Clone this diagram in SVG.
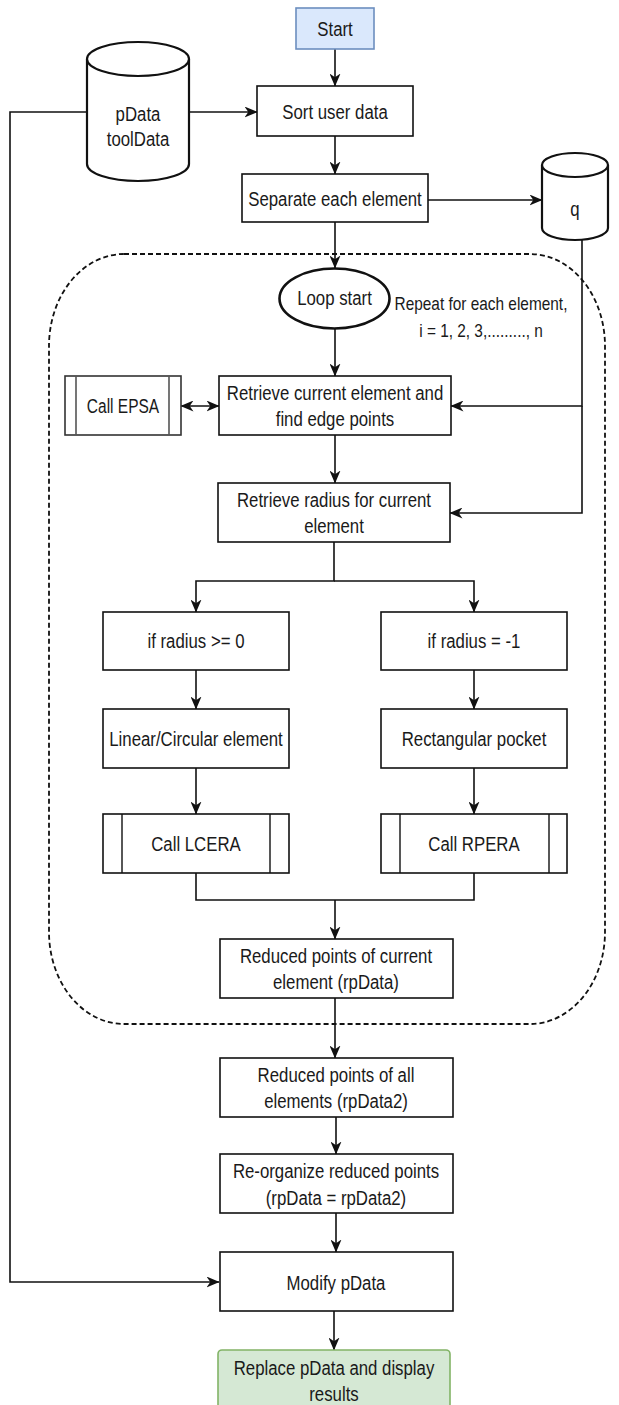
<svg xmlns="http://www.w3.org/2000/svg" width="619" height="1405" viewBox="0 0 619 1405">
  <style>
    text { font-family: "Liberation Sans", Arial, sans-serif; font-size: 16.8px; fill: #1a1a1a; text-anchor: middle; dominant-baseline: central; }
    .lbl { transform-box: fill-box; transform-origin: center; transform: scaleY(1.25); }
    .small { font-size: 15.4px; }
    .box { fill: #ffffff; stroke: #111; stroke-width: 1.6; }
    .sub { fill: none; stroke: #111; stroke-width: 1.4; }
    .store { fill: #ffffff; stroke: #111; stroke-width: 2.2; }
    .edge { fill: none; stroke: #111; stroke-width: 1.6; }
  </style>
  <defs>
    <marker id="arrow" viewBox="0 0 13 11" markerWidth="13" markerHeight="11" refX="12.5" refY="5.5" orient="auto-start-reverse" markerUnits="userSpaceOnUse">
      <path d="M0,0 L13,5.5 L0,11 L3.8,5.5 Z" fill="#111"/>
    </marker>
  </defs>

  <!-- loop boundary -->
  <rect id="loop-region" x="49" y="254" width="556" height="770" rx="75" ry="92" fill="none" stroke="#111" stroke-width="1.8" stroke-dasharray="5 3"/>

  <!-- connectors -->
  <g id="connectors">
    <path class="edge" d="M335,49 V86" marker-end="url(#arrow)"/>
    <path class="edge" d="M189,112 H257" marker-end="url(#arrow)"/>
    <path class="edge" d="M335,136 V174" marker-end="url(#arrow)"/>
    <path class="edge" d="M428,200 H542" marker-end="url(#arrow)"/>
    <path class="edge" d="M335,222 V268" marker-end="url(#arrow)"/>
    <path class="edge" d="M335,329 V376" marker-end="url(#arrow)"/>
    <path class="edge" d="M181,406 H219" marker-start="url(#arrow)" marker-end="url(#arrow)"/>
    <path class="edge" d="M582,240 V406 H451" marker-end="url(#arrow)"/>
    <path class="edge" d="M582,406 V513 H450" marker-end="url(#arrow)"/>
    <path class="edge" d="M335,435 V483" marker-end="url(#arrow)"/>
    <path class="edge" d="M334,542 V581 H196 V612" marker-end="url(#arrow)"/>
    <path class="edge" d="M334,581 H474 V612" marker-end="url(#arrow)"/>
    <path class="edge" d="M196,670 V709" marker-end="url(#arrow)"/>
    <path class="edge" d="M474,670 V709" marker-end="url(#arrow)"/>
    <path class="edge" d="M196,768 V814" marker-end="url(#arrow)"/>
    <path class="edge" d="M474,768 V814" marker-end="url(#arrow)"/>
    <path class="edge" d="M196,873 V900 H474 V873"/>
    <path class="edge" d="M335,900 V939" marker-end="url(#arrow)"/>
    <path class="edge" d="M335,998 V1058" marker-end="url(#arrow)"/>
    <path class="edge" d="M336,1117 V1154" marker-end="url(#arrow)"/>
    <path class="edge" d="M336,1213 V1252" marker-end="url(#arrow)"/>
    <path class="edge" d="M87,112 H10 V1282 H219" marker-end="url(#arrow)"/>
    <path class="edge" d="M334,1311 V1350" marker-end="url(#arrow)"/>
  </g>

  <g id="start">
    <rect x="296" y="8" width="78" height="41" fill="#dae8fc" stroke="#6c8ebf" stroke-width="1.6"/>
    <text class="lbl" x="335" y="29">Start</text>
  </g>

  <g id="pdata-store">
    <path class="store" d="M87,59 A51,17 0 0 1 189,59 V164 A51,17 0 0 1 87,164 Z"/>
    <path class="store" d="M87,59 A51,17 0 0 0 189,59" fill="none"/>
    <text class="lbl" x="138" y="114">pData</text>
    <text class="lbl" x="138" y="139">toolData</text>
  </g>

  <g id="sort">
    <rect class="box" x="257" y="86" width="156" height="50"/>
    <text class="lbl" x="335" y="112">Sort user data</text>
  </g>

  <g id="separate">
    <rect class="box" x="242" y="174" width="186" height="48"/>
    <text class="lbl" x="335" y="199">Separate each element</text>
  </g>

  <g id="q-store">
    <path class="store" d="M542,165 A33,12 0 0 1 608,165 V228 A33,12 0 0 1 542,228 Z"/>
    <path class="store" d="M542,165 A33,12 0 0 0 608,165" fill="none"/>
    <text class="lbl" x="575" y="209">q</text>
  </g>

  <g id="loop-start">
    <ellipse cx="334.5" cy="298.5" rx="55" ry="30" fill="#fff" stroke="#111" stroke-width="2.6"/>
    <text class="lbl" x="334.5" y="298">Loop start</text>
    <text class="lbl small" x="481" y="303">Repeat for each element,</text>
    <text class="lbl small" x="481" y="330">i = 1, 2, 3,........., n</text>
  </g>

  <g id="call-epsa">
    <rect x="65" y="376" width="116" height="59" fill="#fff" stroke="#333" stroke-width="1.6"/>
    <path d="M76,376 V435 M169,376 V435" fill="none" stroke="#555" stroke-width="1.6"/>
    <text class="lbl" x="123" y="406" style="font-size:15.5px">Call EPSA</text>
  </g>

  <g id="retrieve-element">
    <rect class="box" x="219" y="376" width="232" height="59"/>
    <text class="lbl" x="335" y="393">Retrieve current element and</text>
    <text class="lbl" x="335" y="419">find edge points</text>
  </g>

  <g id="retrieve-radius">
    <rect class="box" x="218" y="483" width="232" height="59"/>
    <text class="lbl" x="334" y="500">Retrieve radius for current</text>
    <text class="lbl" x="334" y="526">element</text>
  </g>

  <g id="radius-positive">
    <rect class="box" x="103" y="612" width="186" height="58"/>
    <text class="lbl" x="196" y="641">if radius &gt;= 0</text>
  </g>

  <g id="radius-negative">
    <rect class="box" x="381" y="612" width="186" height="58"/>
    <text class="lbl" x="474" y="641">if radius = -1</text>
  </g>

  <g id="linear-circular">
    <rect class="box" x="103" y="709" width="186" height="59"/>
    <text class="lbl" x="196" y="739">Linear/Circular element</text>
  </g>

  <g id="rect-pocket">
    <rect class="box" x="381" y="709" width="186" height="59"/>
    <text class="lbl" x="474" y="739">Rectangular pocket</text>
  </g>

  <g id="call-lcera">
    <rect class="box" x="103" y="814" width="186" height="59"/>
    <path class="sub" d="M122,814 V873 M270,814 V873"/>
    <text class="lbl" x="196" y="844">Call LCERA</text>
  </g>

  <g id="call-rpera">
    <rect class="box" x="381" y="814" width="186" height="59"/>
    <path class="sub" d="M400,814 V873 M549,814 V873"/>
    <text class="lbl" x="474" y="844">Call RPERA</text>
  </g>

  <g id="rpdata">
    <rect class="box" x="220" y="939" width="233" height="59"/>
    <text class="lbl" x="336" y="956">Reduced points of current</text>
    <text class="lbl" x="336" y="982">element (rpData)</text>
  </g>

  <g id="rpdata2">
    <rect class="box" x="220" y="1058" width="233" height="59"/>
    <text class="lbl" x="336" y="1075">Reduced points of all</text>
    <text class="lbl" x="336" y="1101">elements (rpData2)</text>
  </g>

  <g id="reorganize">
    <rect class="box" x="220" y="1154" width="233" height="59"/>
    <text class="lbl" x="336" y="1171">Re-organize reduced points</text>
    <text class="lbl" x="336" y="1198">(rpData = rpData2)</text>
  </g>

  <g id="modify">
    <rect class="box" x="220" y="1252" width="233" height="59"/>
    <text class="lbl" x="336" y="1283">Modify pData</text>
  </g>

  <g id="replace">
    <rect x="218" y="1350" width="232" height="64" rx="4" fill="#d5e8d4" stroke="#82b366" stroke-width="1.6"/>
    <text class="lbl" x="334" y="1368">Replace pData and display</text>
    <text class="lbl" x="334" y="1394">results</text>
  </g>
</svg>
